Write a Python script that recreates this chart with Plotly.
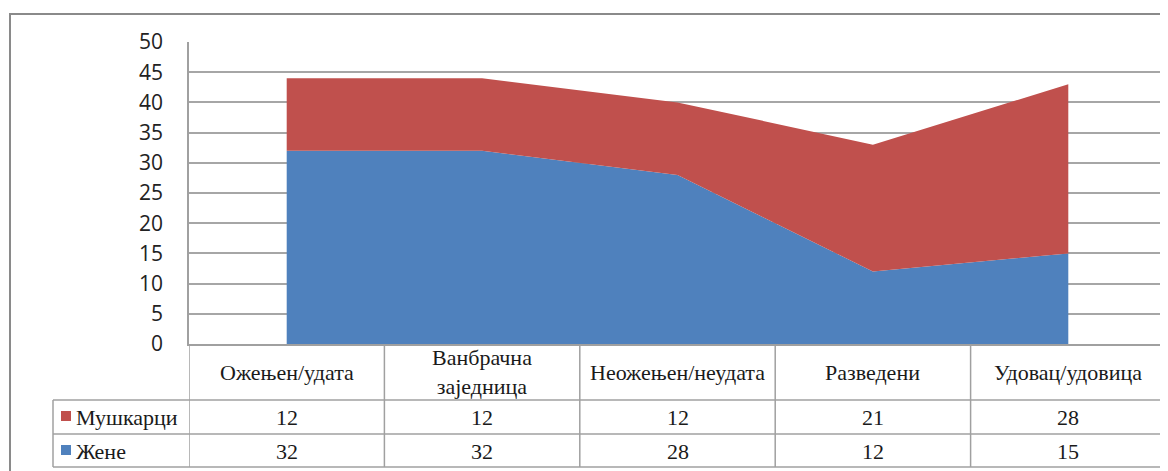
import plotly.graph_objects as go

categories = ["Ожењен/удата", "Ванбрачна<br>заједница", "Неожењен/неудата", "Разведени", "Удовац/удовица"]
men = [12, 12, 12, 21, 28]      # Мушкарци
women = [32, 32, 28, 12, 15]    # Жене
series_names = ["Мушкарци", "Жене"]
y_ticks = [0, 5, 10, 15, 20, 25, 30, 35, 40, 45, 50]

RED = "#C0504D"
BLUE = "#4F81BD"
GRID = "#a6a6a6"
TBL = "#a0a0a0"

OFF = 8  # default page body margin
W, H = 1168 - OFF, 471 - OFF
ML, MR, MT, MB = 189 - OFF, 10 - OFF, 42 - OFF, 127
PW = W - ML - MR
PH = H - MT - MB
Y0 = 344  # screen pixel y of plot bottom
X0 = 189  # screen pixel x of plot left


def py(p):
    return (Y0 - p) / PH


def px(p):
    return (p - X0) / PW


xs = list(range(len(categories)))

fig = go.Figure()
fig.add_trace(go.Scatter(x=xs, y=women, name=series_names[1], stackgroup="s",
                         mode="lines", line=dict(width=0, color=BLUE),
                         fillcolor=BLUE, hoverinfo="skip"))
fig.add_trace(go.Scatter(x=xs, y=men, name=series_names[0], stackgroup="s",
                         mode="lines", line=dict(width=0, color=RED),
                         fillcolor=RED, hoverinfo="skip"))

shapes = []
annotations = []
serif = dict(family="Liberation Serif, Times New Roman, serif", size=22, color="#1a1a1a")

# outer frame (right/bottom edges beyond the page)
shapes.append(dict(type="rect", xref="paper", yref="paper",
                   x0=px(10), x1=px(1185), y0=py(14), y1=py(490),
                   line=dict(color="#8a8a8a", width=2), layer="below"))

n = len(categories)
# horizontal table lines
for yy in [400, 434, 467]:
    shapes.append(dict(type="line", xref="paper", yref="paper",
                       x0=px(53), x1=1, y0=py(yy), y1=py(yy),
                       line=dict(color=TBL, width=1.5)))
# vertical table lines
for i in range(n + 1):
    shapes.append(dict(type="line", xref="x", yref="paper",
                       x0=i - 0.5, x1=i - 0.5, y0=0, y1=py(467),
                       line=dict(color=TBL, width=1.5)))
shapes.append(dict(type="line", xref="paper", yref="paper",
                   x0=px(53), x1=px(53), y0=py(400), y1=py(467),
                   line=dict(color=TBL, width=1.5)))

# header row text
for i, c in enumerate(categories):
    annotations.append(dict(x=i, y=py(372), xref="x", yref="paper", text=c,
                            showarrow=False, font=serif, align="center",
                            xanchor="center", yanchor="middle"))
# values
for i in range(n):
    annotations.append(dict(x=i, y=py(417), xref="x", yref="paper", text=str(men[i]),
                            showarrow=False, font=serif, xanchor="center", yanchor="middle"))
    annotations.append(dict(x=i, y=py(451), xref="x", yref="paper", text=str(women[i]),
                            showarrow=False, font=serif, xanchor="center", yanchor="middle"))
# legend keys
for (label, color, yc) in [(series_names[0], RED, 416), (series_names[1], BLUE, 450)]:
    shapes.append(dict(type="rect", xref="paper", yref="paper",
                       x0=px(61), x1=px(71), y0=py(yc - 5), y1=py(yc + 5),
                       line=dict(width=0), fillcolor=color))
    annotations.append(dict(x=px(74), y=py(yc + 1), xref="paper", yref="paper", text=label,
                            showarrow=False, font=serif, xanchor="left", yanchor="middle"))

fig.update_layout(
    width=W, height=H, autosize=False,
    margin=dict(l=ML, r=MR, t=MT, b=MB, pad=0),
    paper_bgcolor="white", plot_bgcolor="white",
    showlegend=False,
    shapes=shapes, annotations=annotations,
    xaxis=dict(range=[-0.5, n - 0.5], showticklabels=False, showgrid=False,
               zeroline=False, showline=True, linecolor=TBL, linewidth=1.5,
               fixedrange=True),
    yaxis=dict(range=[0, 50], tickvals=y_ticks, showgrid=True, gridcolor=GRID,
               gridwidth=1.5, zeroline=False, showline=True, linecolor=TBL,
               linewidth=1.5, ticks="", ticklabelstandoff=20,
               tickfont=dict(family="Open Sans, sans-serif", size=21, color="#222"),
               fixedrange=True),
)

fig.write_html("out.html")
